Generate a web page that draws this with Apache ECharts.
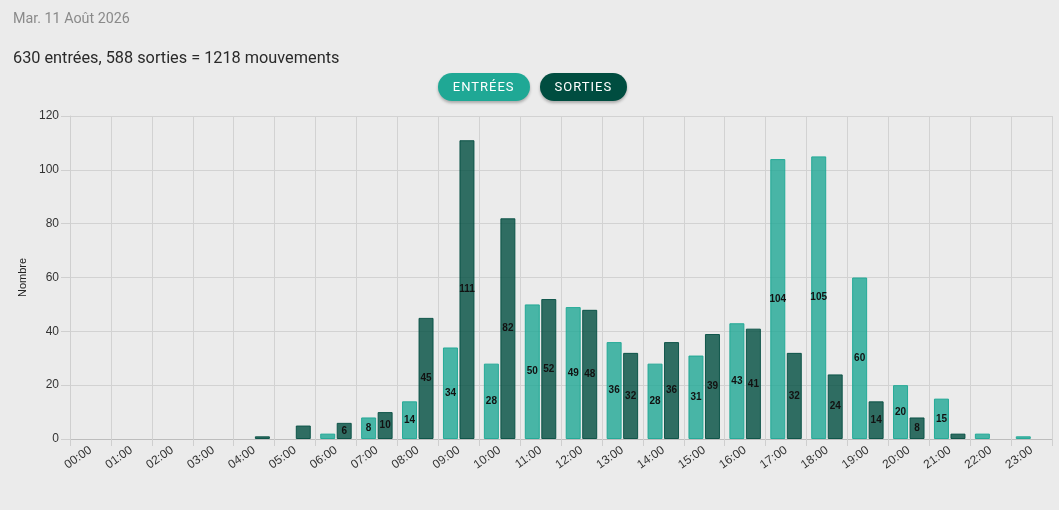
<!DOCTYPE html>
<html lang="fr">
<head>
<meta charset="utf-8">
<title>Mouvements</title>
<script src="https://cdn.jsdelivr.net/npm/echarts@6/dist/echarts.min.js"></script>
<style>
  html, body { margin: 0; padding: 0; background: #ebebeb; width: 1059px; height: 510px; overflow: hidden; }
  body { position: relative; font-family: Roboto, "Liberation Sans", sans-serif; }
  #date { position: absolute; left: 13px; top: 10px; font-size: 14.3px; color: #8a8a8a; }
  #resume { position: absolute; left: 13px; top: 48px; font-size: 16.3px; color: #2a2a2a; }
  #boutons { position: absolute; left: 6px; right: 0; top: 73px; text-align: center; z-index: 2; font-size: 0; }
  .btn { display: inline-block; height: 28px; line-height: 28px; padding: 0 15px; margin: 0 5px; border-radius: 14px;
         color: #fff; font-size: 13px; letter-spacing: 1px; box-shadow: 0 2px 3px rgba(0,0,0,0.28); cursor: pointer; user-select: none; }
  .btn.off { opacity: 0.45; }
  #chart { position: absolute; left: 0; top: 0; width: 1059px; height: 510px; }
</style>
</head>
<body>
<div id="chart"></div>
<div id="date">Mar. 11 Août 2026</div>
<div id="resume"></div>
<div id="boutons"><span class="btn" id="btnEntrees" style="background:#1fa895">ENTRÉES</span><span class="btn" id="btnSorties" style="background:#004d40">SORTIES</span></div>
<script>
// heures de la journée (axe x)
const heures = ['00:00','01:00','02:00','03:00','04:00','05:00','06:00','07:00','08:00','09:00','10:00','11:00',
                '12:00','13:00','14:00','15:00','16:00','17:00','18:00','19:00','20:00','21:00','22:00','23:00'];
// nombre d'entrées par heure
const entrees = [0, 0, 0, 0, 0, 0, 2, 8, 14, 34, 28, 50, 49, 36, 28, 31, 43, 104, 105, 60, 20, 15, 2, 1];
// nombre de sorties par heure
const sorties = [0, 0, 0, 0, 1, 5, 6, 10, 45, 111, 82, 52, 48, 32, 36, 39, 41, 32, 24, 14, 8, 2, 0, 0];

// résumé en haut de page
const totalE = entrees.reduce((a, b) => a + b, 0);
const totalS = sorties.reduce((a, b) => a + b, 0);
document.getElementById('resume').textContent =
  totalE + ' entrées, ' + totalS + ' sorties = ' + (totalE + totalS) + ' mouvements';

const chart = echarts.init(document.getElementById('chart'));

// pas de barre (ni bordure) pour les heures sans mouvement
const sansZero = arr => arr.map(v => (v === 0 ? '-' : v));

// étiquette au milieu de la barre, masquée si la barre est trop petite
const etiquette = {
  show: true,
  position: 'inside',
  color: '#111',
  fontSize: 10,
  fontWeight: 'bold',
  fontFamily: '"Liberation Sans", Arial, sans-serif',
  formatter: p => (p.value >= 6 ? String(p.value) : '')
};

chart.setOption({
  backgroundColor: 'transparent',
  animation: false,
  textStyle: { fontFamily: '"Liberation Sans", Arial, sans-serif' },
  legend: { show: false, data: ['Entrées', 'Sorties'] },
  tooltip: { trigger: 'axis', axisPointer: { type: 'shadow' } },
  grid: { left: 70, right: 7, top: 116, bottom: 71 },
  xAxis: {
    type: 'category',
    data: heures,
    boundaryGap: true,
    axisLine: { show: true, lineStyle: { color: '#bdbdbd' } },
    axisTick: { show: true, length: 7, lineStyle: { color: '#cfcfcf' } },
    splitLine: { show: true, lineStyle: { color: '#d2d2d2' } },
    axisLabel: { rotate: 35, color: '#333', fontSize: 12, margin: 10 }
  },
  yAxis: {
    type: 'value',
    min: 0,
    max: 120,
    interval: 20,
    name: 'Nombre',
    nameLocation: 'middle',
    nameGap: 40,
    nameTextStyle: { color: '#222', fontSize: 11 },
    axisLine: { show: true, lineStyle: { color: '#cfcfcf' } },
    axisTick: { show: true, length: 9, lineStyle: { color: '#cfcfcf' } },
    splitLine: { show: true, lineStyle: { color: '#d2d2d2' } },
    axisLabel: { color: '#333', fontSize: 12, margin: 11 }
  },
  series: [
    {
      name: 'Entrées',
      type: 'bar',
      data: sansZero(entrees),
      barWidth: 15,
      barGap: '10%',
      itemStyle: { color: 'rgba(31,168,149,0.8)', borderColor: 'rgba(31,168,149,0.95)', borderWidth: 1 },
      label: etiquette
    },
    {
      name: 'Sorties',
      type: 'bar',
      data: sansZero(sorties),
      barWidth: 15,
      barGap: '10%',
      itemStyle: { color: 'rgba(0,77,64,0.8)', borderColor: 'rgba(0,77,64,0.9)', borderWidth: 1 },
      label: etiquette
    }
  ]
});

// les boutons jouent le rôle de légende
function lierBouton(id, nom) {
  const b = document.getElementById(id);
  b.addEventListener('click', () => {
    chart.dispatchAction({ type: 'legendToggleSelect', name: nom });
    b.classList.toggle('off');
  });
}
lierBouton('btnEntrees', 'Entrées');
lierBouton('btnSorties', 'Sorties');
</script>
</body>
</html>
